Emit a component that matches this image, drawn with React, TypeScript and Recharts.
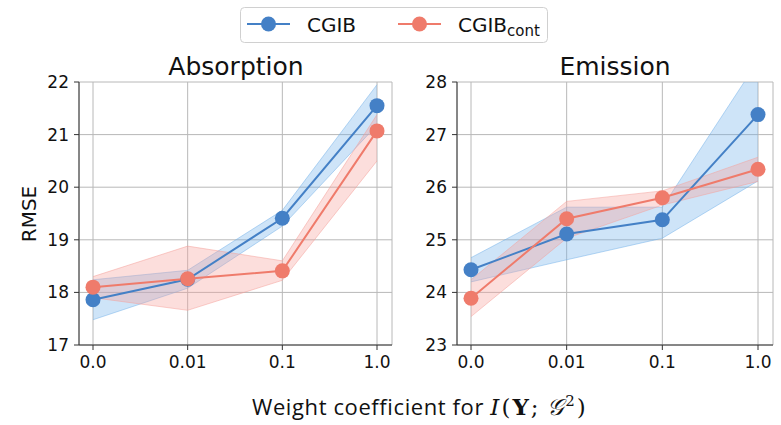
import React from 'react';
import { ComposedChart, Area, Line, XAxis, YAxis, CartesianGrid } from 'recharts';

const weights = ['0.0', '0.01', '0.1', '1.0'];

// Absorption
const absCgib = [17.86, 18.25, 19.41, 21.55];
const absCgibLow = [17.48, 18.08, 19.26, 21.18];
const absCgibHigh = [18.24, 18.42, 19.56, 21.95];
const absCont = [18.1, 18.26, 18.41, 21.07];
const absContLow = [17.9, 17.66, 18.23, 20.5];
const absContHigh = [18.3, 18.88, 18.6, 21.38];

// Emission
const emiCgib = [24.43, 25.11, 25.38, 27.38];
const emiCgibLow = [24.2, 24.62, 25.03, 26.12];
const emiCgibHigh = [24.66, 25.62, 25.62, 28.4];
const emiCont = [23.89, 25.4, 25.8, 26.34];
const emiContLow = [23.54, 25.03, 25.66, 26.11];
const emiContHigh = [24.24, 25.73, 25.93, 26.57];

const absTicks = [17, 18, 19, 20, 21, 22];
const emiTicks = [23, 24, 25, 26, 27, 28];

const BLUE = '#4480c6';
const RED = '#ef7b6b';
const BLUE_FILL = '#74b2ea';
const RED_FILL = '#f5a09a';

const buildRows = (
  a: number[], aLo: number[], aHi: number[],
  b: number[], bLo: number[], bHi: number[]
) =>
  weights.map((w, i) => ({
    w,
    cgib: a[i],
    cgibBand: [aLo[i], aHi[i]],
    cont: b[i],
    contBand: [bLo[i], bHi[i]],
  }));

const absData = buildRows(absCgib, absCgibLow, absCgibHigh, absCont, absContLow, absContHigh);
const emiData = buildRows(emiCgib, emiCgibLow, emiCgibHigh, emiCont, emiContLow, emiContHigh);

const FONT = '"DejaVu Sans", sans-serif';
const tickStyle = { fontSize: 17, fill: '#111', fontFamily: FONT };

const Panel = ({ data, ticks, left, width, marginLeft }: any) => (
  <div style={{ position: 'absolute', left, top: 0 }}>
    <ComposedChart
      width={width}
      height={425}
      data={data}
      margin={{ top: 82, right: 8, left: marginLeft, bottom: 50 }}
    >
      <CartesianGrid stroke="#b8b8b8" strokeWidth={1} />
      <XAxis
        dataKey="w"
        type="category"
        padding={{ left: 14, right: 15 }}
        tick={tickStyle}
        tickSize={5}
        tickMargin={6}
        stroke="#333"
        height={30}
      />
      <YAxis
        domain={[ticks[0], ticks[ticks.length - 1]]}
        ticks={ticks}
        allowDataOverflow
        tick={tickStyle}
        tickSize={5}
        tickMargin={5}
        stroke="#333"
        width={40}
      />
      <Area
        dataKey="cgibBand"
        type="linear"
        fill={BLUE_FILL}
        fillOpacity={0.35}
        stroke={BLUE_FILL}
        strokeOpacity={0.5}
        isAnimationActive={false}
      />
      <Area
        dataKey="contBand"
        type="linear"
        fill={RED_FILL}
        fillOpacity={0.35}
        stroke={RED_FILL}
        strokeOpacity={0.5}
        isAnimationActive={false}
      />
      <Line
        dataKey="cgib"
        type="linear"
        stroke={BLUE}
        strokeWidth={2}
        dot={{ r: 7.5, fill: BLUE, stroke: BLUE, strokeWidth: 0 }}
        isAnimationActive={false}
      />
      <Line
        dataKey="cont"
        type="linear"
        stroke={RED}
        strokeWidth={2}
        dot={{ r: 7.5, fill: RED, stroke: RED, strokeWidth: 0 }}
        isAnimationActive={false}
      />
    </ComposedChart>
  </div>
);

const Legend = () => (
  <svg width={781} height={50} style={{ position: 'absolute', left: 0, top: 0 }}>
    <rect x={240.5} y={7.5} width={307} height={35} rx={4} fill="#fff" stroke="#d0d0d0" />
    <line x1={247} y1={24} x2={290} y2={24} stroke={BLUE} strokeWidth={2} />
    <circle cx={268.5} cy={24} r={7.5} fill={BLUE} />
    <text x={307} y={32} fontSize={20} fontFamily={FONT} fill="#111">CGIB</text>
    <line x1={398} y1={24} x2={441} y2={24} stroke={RED} strokeWidth={2} />
    <circle cx={419.5} cy={24} r={7.5} fill={RED} />
    <text x={458} y={32} fontSize={20} fontFamily={FONT} fill="#111">
      CGIB<tspan fontSize={15} dy={4}>cont</tspan>
    </text>
  </svg>
);

export default function App() {
  return (
    <div style={{ position: 'absolute', left: 0, top: 0, width: 781, height: 425, background: '#fff', fontFamily: FONT }}>
      <Panel data={absData} ticks={absTicks} left={0} width={400} marginLeft={39} />
      <Panel data={emiData} ticks={emiTicks} left={400} width={381} marginLeft={17} />

      <div style={{ position: 'absolute', left: 79, width: 314, top: 52, textAlign: 'center', fontSize: 25, color: '#111', whiteSpace: 'nowrap' }}>
        Absorption
      </div>
      <div style={{ position: 'absolute', left: 457, width: 316, top: 52, textAlign: 'center', fontSize: 25, color: '#111', whiteSpace: 'nowrap' }}>
        Emission
      </div>

      <div style={{ position: 'absolute', left: 29, top: 214, transform: 'translate(-50%, -50%) rotate(-90deg)', fontSize: 20, color: '#111' }}>
        RMSE
      </div>

      <Legend />

      <div style={{ position: 'absolute', left: 252, top: 391, fontSize: 22, letterSpacing: 0.6, color: '#111', fontFamily: '"Open Sans", sans-serif', whiteSpace: 'nowrap' }}>
        Weight coefficient for{' '}
        <span style={{ fontFamily: '"DejaVu Serif", serif', fontSize: 23, letterSpacing: 2 }}>
          <i style={{ fontWeight: 300 }}>I</i>(<b>Y</b>;&#x2009;<i>𝒢</i><sup style={{ fontSize: 15, verticalAlign: 9 }}>2</sup>)
        </span>
      </div>
    </div>
  );
}
